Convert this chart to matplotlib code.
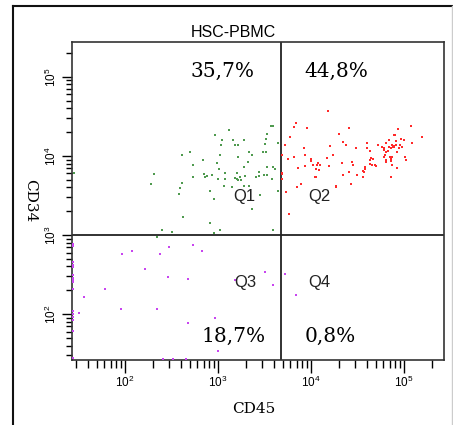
import numpy as np
import matplotlib
matplotlib.use('Agg')
import matplotlib.pyplot as plt
from matplotlib.lines import Line2D

plt.rcParams['font.family'] = ['Liberation Sans', 'DejaVu Sans']
plt.rcParams['mathtext.default'] = 'regular'

# log10 of fluorescence
green_x = [3.57, 3.59, 3.12, 2.97, 3.53, 3.04, 3.16, 3.28, 3.52, 3.03, 3.18, 3.22, 3.50,
           2.70, 2.61, 2.84, 3.02, 3.22, 3.33, 3.37, 3.48, 3.52, 3.65, 2.99, 3.32, 2.73,
           3.01, 3.28, 3.53, 3.59, 3.61, 2.31, 2.85, 2.88, 2.86, 2.94, 3.07, 3.20, 3.29,
           3.44, 3.49, 3.53, 2.73, 3.00, 3.07, 3.18, 3.20, 3.24, 3.25, 3.22, 3.41, 3.44,
           3.58, 2.61, 2.28, 2.59, 3.06, 3.15, 3.28, 3.33, 3.65, 2.91, 2.58, 3.45, 2.96,
           3.37, 2.62, 2.91, 2.40, 2.51, 3.02, 2.96, 3.59, 2.34, 1.45]
green_y = [4.38, 4.38, 4.33, 4.26, 4.28, 4.20, 4.20, 4.20, 4.22, 4.14, 4.14, 4.14, 4.15,
           4.05, 4.01, 3.95, 4.01, 3.99, 4.05, 4.01, 4.05, 4.05, 4.16, 3.91, 3.92, 3.89,
           3.84, 3.86, 3.86, 3.86, 3.83, 3.77, 3.77, 3.74, 3.73, 3.76, 3.78, 3.78, 3.75,
           3.80, 3.76, 3.76, 3.73, 3.71, 3.71, 3.72, 3.71, 3.73, 3.70, 3.69, 3.73, 3.75,
           3.71, 3.66, 3.64, 3.60, 3.62, 3.61, 3.62, 3.62, 3.56, 3.56, 3.52, 3.50, 3.46,
           3.33, 3.23, 3.15, 3.06, 3.04, 3.06, 3.02, 3.06, 2.97, 3.79]

red_x = [4.18, 3.84, 3.82, 3.96, 4.41, 4.30, 3.77, 4.34, 3.72, 4.20, 4.38, 4.48, 4.60,
         4.60, 3.92, 3.69, 3.82, 3.93, 3.75, 4.00, 4.00, 4.17, 4.24, 4.33, 4.44, 4.45,
         3.94, 4.06, 4.08, 4.10, 3.86, 4.02, 4.19, 4.58, 3.69, 3.69, 4.05, 4.09, 4.41,
         4.34, 4.57, 4.56, 3.69, 4.04, 4.05, 4.49, 4.43, 4.27, 4.27, 3.89, 3.85, 3.73,
         3.76, 5.07, 4.94, 5.19, 4.89, 4.90, 4.84, 4.91, 4.97, 5.00, 5.09, 4.72, 4.76,
         4.78, 4.81, 4.87, 4.89, 4.88, 4.89, 4.84, 4.86, 4.91, 4.96, 4.83, 4.81, 4.95,
         4.98, 4.92, 4.78, 4.63, 4.80, 4.79, 4.65, 4.67, 4.85, 4.86, 4.87, 5.01, 5.02,
         4.63, 4.81, 4.81, 4.86, 4.63, 4.66, 4.69, 4.70, 4.87, 4.58, 4.56, 4.92, 4.86]
red_y = [4.57, 4.41, 4.36, 4.35, 4.35, 4.28, 4.24, 4.18, 4.14, 4.12, 4.14, 4.10, 4.16,
         4.10, 4.10, 4.01, 3.99, 4.01, 3.96, 3.96, 3.93, 3.97, 4.01, 3.91, 3.92, 3.89,
         3.87, 3.89, 3.91, 3.89, 3.85, 3.88, 3.87, 3.86, 3.79, 3.77, 3.84, 3.82, 3.80,
         3.76, 3.80, 3.73, 3.71, 3.73, 3.73, 3.76, 3.65, 3.62, 3.61, 3.65, 3.61, 3.55,
         3.27, 4.38, 4.34, 4.24, 4.27, 4.27, 4.20, 4.19, 4.22, 4.20, 4.16, 4.14, 4.11,
         4.10, 4.16, 4.14, 4.13, 4.11, 4.11, 4.11, 4.10, 4.14, 4.14, 4.06, 4.05, 4.10,
         4.11, 4.05, 4.07, 4.06, 4.01, 3.99, 3.97, 3.96, 3.98, 3.96, 3.99, 3.98, 3.95,
         3.95, 3.95, 3.92, 3.93, 3.90, 3.89, 3.88, 3.87, 3.89, 3.84, 3.81, 3.85, 3.73]

purple_x = [1.44, 1.44, 1.44, 1.44, 1.44, 1.44, 1.44, 1.44, 1.44, 1.44, 1.44, 1.44, 1.44,
            1.44, 1.44, 1.44, 1.44, 2.08, 1.97, 2.38, 2.47, 2.73, 2.83, 2.22, 2.46, 2.68,
            1.79, 1.56, 1.50, 1.96, 2.34, 2.68, 2.41, 2.52, 2.66, 3.50, 3.59, 3.18, 3.72,
            3.84, 2.97, 3.00]
purple_y = [2.89, 2.86, 2.66, 2.62, 2.59, 2.49, 2.46, 2.45, 2.43, 2.40, 2.32, 2.04, 2.00,
            1.96, 1.92, 1.79, 1.44, 2.80, 2.76, 2.76, 2.85, 2.88, 2.80, 2.57, 2.47, 2.45,
            2.32, 2.22, 2.01, 2.07, 2.07, 1.89, 1.43, 1.43, 1.43, 2.53, 2.37, 2.43, 2.51,
            2.24, 1.95, 1.53]

gate_x = 10 ** 3.68
gate_y = 1000
pct_labels = ['35,7%', '44,8%', '18,7%', '0,8%']
quad_labels = ['Q1', 'Q2', 'Q3', 'Q4']

W, H = 453, 425
fig = plt.figure(figsize=(W / 100, H / 100), dpi=100)
ax = fig.add_axes([72 / W, 1 - 360 / H, (444 - 72) / W, (360 - 42) / H])

for xs, ys, c in [(green_x, green_y, '#4f9a4f'),
                  (red_x, red_y, '#ff2a2a'),
                  (purple_x, purple_y, '#c845f0')]:
    ax.scatter(10 ** np.array(xs), 10 ** np.array(ys), s=3, c=c, marker='s',
               linewidths=0, clip_on=False, zorder=3)

ax.set_xscale('log')
ax.set_yscale('log')
ax.set_xlim(10 ** 1.43, 10 ** 5.43)
ax.set_ylim(10 ** 1.42, 10 ** 5.44)

ax.axvline(gate_x, color='#222222', lw=1.3, zorder=2)
ax.axhline(gate_y, color='#222222', lw=1.3, zorder=2)

for s in ax.spines.values():
    s.set_color('#333333')
    s.set_linewidth(1.2)

ax.tick_params(axis='x', which='major', length=9.5, width=1, pad=1, labelsize=8.5)
ax.tick_params(axis='x', which='minor', length=5.5, width=1)
ax.tick_params(axis='y', which='major', length=7, width=1, pad=2, labelsize=8.5,
               labelrotation=90)
ax.tick_params(axis='y', which='minor', length=4, width=1)
for lab in ax.get_yticklabels():
    lab.set_va('center')

def px(x, y):
    return x / W, 1 - y / H

fig.text(*px(233, 37), 'HSC-PBMC', ha='center', va='baseline', fontsize=11.5)

pct_pos = [(222, 77), (336, 77), (234, 341.5), (330, 341.5)]
for (x, y), t in zip(pct_pos, pct_labels):
    fig.text(*px(x, y), t, ha='center', va='baseline', fontsize=14.5,
             family='DejaVu Serif')

q_pos = [(244, 201), (319, 201), (245, 287.5), (319, 287.5)]
for (x, y), t in zip(q_pos, quad_labels):
    fig.text(*px(x, y), t, ha='center', va='baseline', fontsize=12,
             color='#222222')

fig.text(*px(253.5, 413), 'CD45', ha='center', va='baseline', fontsize=11,
         family='DejaVu Serif')
fig.text(*px(30, 201), 'CD34', ha='center', va='center', fontsize=11,
         family='DejaVu Serif', rotation=270)

# outer frame of the picture
fig.add_artist(Line2D([13 / W, 13 / W], [0, 1 - 6 / H], color='#111111', lw=1.5))
fig.add_artist(Line2D([13 / W, 452 / W], [1 - 6 / H, 1 - 6 / H], color='#111111', lw=1.5))
fig.add_artist(Line2D([452 / W, 452 / W], [0, 1 - 6 / H], color='#cccccc', lw=1))

fig.savefig('out.png', dpi=100)
